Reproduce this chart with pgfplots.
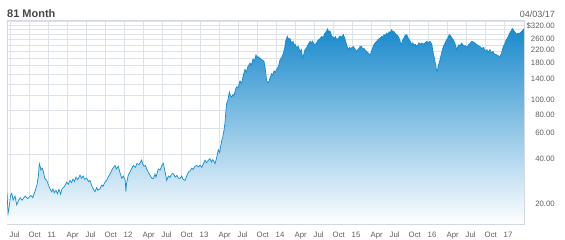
\documentclass[border=0pt]{standalone}
\usepackage{pgfplots}
\pgfplotsset{compat=1.18}
\usepackage{pgfplotstable}
\usepackage{fontspec}
\setmainfont{Liberation Sans}
\definecolor{gridc}{RGB}{222,227,234}
\definecolor{framec}{RGB}{210,216,224}
\definecolor{linec}{RGB}{22,140,208}
\definecolor{topc}{RGB}{26,138,204}
\definecolor{midc}{RGB}{110,184,226}
\definecolor{txt}{RGB}{95,95,95}
\definecolor{ttl}{RGB}{70,70,75}
\pgfplotstableread{
m v
5.53 22.1
5.7 16.0
5.85 17.4
6.1 21.2
6.3 21.9
6.5 19.7
6.8 21.0
7.06 18.3
7.3 19.3
7.6 20.5
7.9 19.7
8.4 21.0
8.8 20.2
9.3 21.2
9.6 20.5
9.95 22.6
10.26 24.9
10.5 29.1
10.63 34.8
10.8 32.9
10.89 31.5
11.1 32.4
11.26 31.0
11.5 27.7
11.79 26.8
12.0 25.4
12.32 23.5
12.6 22.4
12.79 23.5
13.0 22.1
13.26 23.0
13.5 21.8
13.74 23.3
14.0 21.6
14.21 23.5
14.6 24.4
14.95 26.1
15.2 25.2
15.47 26.8
15.7 25.9
15.95 27.3
16.2 26.3
16.42 28.2
16.7 27.1
17.05 29.1
17.3 27.7
17.53 28.7
17.8 27.3
18.11 27.7
18.4 26.3
18.63 26.8
18.95 24.4
19.2 23.3
19.42 22.5
19.7 24.0
19.89 23.0
20.21 23.5
20.5 24.9
20.68 24.4
21.0 26.1
21.27 26.8
21.5 28.2
21.79 29.6
22.0 31.0
22.26 32.4
22.58 33.8
22.8 32.0
23.1 33.4
23.3 31.0
23.64 27.7
23.9 28.7
24.2 26.8
24.3 22.5
24.4 25.4
24.68 29.1
25.1 31.5
25.47 33.8
25.8 32.9
26.05 34.8
26.4 34.3
26.79 36.8
27.0 34.3
27.16 33.4
27.4 33.8
27.58 32.0
27.9 30.1
28.1 29.1
28.4 27.7
28.63 27.6
28.9 29.6
29.05 28.2
29.42 32.0
29.7 31.5
30.0 33.8
30.2 35.0
30.4 32.0
30.6 29.1
30.74 26.8
31.0 28.7
31.26 28.0
31.5 29.6
31.78 29.8
32.1 28.2
32.37 29.0
32.6 27.7
32.84 27.6
33.1 28.7
33.32 27.3
33.63 26.8
33.9 28.7
34.2 30.6
34.42 31.0
34.7 32.4
34.9 31.8
35.2 33.4
35.48 33.8
35.8 33.1
36.0 34.0
36.3 32.9
36.6 35.3
36.79 36.7
37.0 35.3
37.26 36.5
37.58 37.6
37.8 35.7
38.05 37.1
38.37 34.8
38.6 37.6
38.89 43.2
39.1 41.4
39.43 49.8
39.6 52.6
39.79 58.3
39.95 65.8
40.1 79.9
40.22 89.3
40.4 93
40.63 106
40.8 100
41.0 98
41.2 102
41.37 100
41.6 110
41.8 115
42.0 113
42.32 126
42.6 121
42.79 135
43.11 151
43.3 144
43.58 158
43.9 166
44.1 161
44.37 177
44.6 172
44.84 189
45.0 181
45.16 184
45.47 179
45.79 175
46.11 171
46.3 153
46.53 126
46.79 122
47.0 130
47.32 141
47.5 138
47.69 147
47.9 144
48.11 151
48.4 158
48.63 175
48.9 181
49.15 193
49.4 214
49.5 233
49.79 252
50.0 240
50.2 244
50.48 227
50.7 233
50.84 219
51.0 223
51.27 211
51.5 216
51.79 199
52.0 205
52.22 179
52.4 191
52.58 205
52.8 209
53.0 219
53.37 233
53.6 228
53.77 234
54.0 223
54.16 221
54.4 228
54.63 237
54.9 242
55.22 252
55.45 246
55.66 262
55.9 270
56.16 283
56.3 270
56.53 274
56.8 252
57.0 249
57.16 244
57.4 251
57.59 239
57.9 246
58.11 253
58.4 249
58.63 259
58.9 242
59.06 228
59.25 214
59.42 205
59.6 212
59.84 209
60.21 215
60.5 206
60.74 199
60.95 206
61.11 209
61.3 216
61.53 215
61.7 205
61.9 209
62.1 203
62.32 199
62.6 193
62.84 189
63.0 195
63.24 209
63.4 219
63.63 227
63.9 233
64.11 240
64.4 244
64.69 252
64.9 249
65.05 259
65.3 256
65.48 265
65.7 260
65.84 270
66.05 268
66.27 279
66.45 270
66.63 272
66.85 262
67.06 259
67.3 251
67.42 246
67.6 233
67.85 221
68.0 237
68.21 246
68.4 256
68.64 259
68.8 249
69.0 240
69.2 233
69.43 221
69.6 228
69.79 219
70.0 223
70.22 215
70.4 221
70.58 228
70.8 223
71.0 227
71.3 223
71.53 228
71.8 233
72.1 228
72.32 233
72.6 223
72.84 193
73.0 181
73.19 163
73.35 149
73.47 146
73.6 158
73.9 175
74.1 191
74.29 206
74.5 219
74.69 227
74.9 237
75.1 244
75.37 259
75.6 253
75.8 244
76.0 239
76.3 223
76.53 205
76.7 214
76.9 221
77.1 219
77.32 227
77.5 221
77.69 216
77.9 219
78.11 211
78.4 221
78.63 225
78.9 233
79.15 231
79.4 227
79.58 223
79.9 219
80.21 215
80.5 209
80.8 212
81.0 199
81.3 205
81.5 197
81.79 205
82.0 195
82.27 199
82.5 191
82.85 189
83.1 186
83.37 184
83.6 193
83.89 215
84.1 223
84.32 237
84.5 244
84.68 252
84.9 265
85.11 274
85.3 284
85.47 279
85.7 270
86.01 259
86.2 265
86.53 265
86.8 272
87.05 279
87.16 284
}\data
\begin{document}
\begin{tikzpicture}
\useasboundingbox (-7pt,-16pt) rectangle (558pt,224pt);
\begin{axis}[
  anchor=south west, at={(0pt,0pt)},
  width=517pt, height=204pt, scale only axis,
  ymode=log, ymin=13.6, ymax=325,
  xmin=5.53, xmax=87.16,
  axis line style={draw=framec, line width=0.6pt},
  xtick={6,9,...,84},
  xticklabels={Jul,Oct,11,Apr,Jul,Oct,12,Apr,Jul,Oct,13,Apr,Jul,Oct,14,Apr,Jul,Oct,15,Apr,Jul,Oct,16,Apr,Jul,Oct,17},
  ytick={20,40,60,80,100,140,180,220,260,320},
  yticklabels={20.00,40.00,60.00,80.00,100.00,140.00,180.00,220.00,260.00,\$320.00},
  minor ytick={120,160,200,240,280,300},
  grid=both,
  major grid style={draw=gridc, line width=0.6pt},
  minor grid style={draw=gridc, line width=0.6pt},
  major tick length=0pt, minor tick length=0pt,
  ticklabel style={font=\fontsize{7.8}{8}\selectfont, text=txt, inner sep=0pt},
  yticklabel pos=right,
  yticklabel style={anchor=east, xshift=31pt, yshift=-4.5pt},
  xticklabel style={anchor=north west, xshift=-0.5pt, yshift=-7.5pt},
  clip=true,
]
\addplot[draw=none, top color=topc, middle color=midc, bottom color=white] table[x=m,y=v]{\data} -- (axis cs:87.16,13.6) -- (axis cs:5.53,13.6) -- cycle;
\addplot[linec, line width=0.7pt, mark=none] table[x=m,y=v]{\data};
\end{axis}
\node[anchor=base west, inner sep=0pt, text=ttl, font=\bfseries\fontsize{11}{12}\selectfont] at (0pt,206.5pt) {81 Month};
\node[anchor=base east, inner sep=0pt, text=txt, font=\fontsize{9}{10}\selectfont] at (548pt,206pt) {04/03/17};
\end{tikzpicture}
\end{document}
